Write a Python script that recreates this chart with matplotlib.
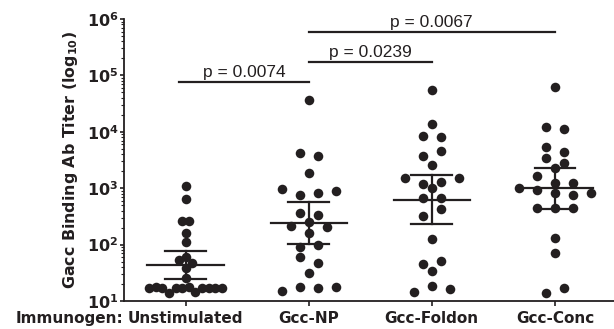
import numpy as np
import matplotlib
matplotlib.use("Agg")
import matplotlib.pyplot as plt
from matplotlib.ticker import LogLocator, FixedLocator, FuncFormatter, NullFormatter

# values (titers), in reading order per row
groups = ["Unstimulated", "Gcc-NP", "Gcc-Foldon", "Gcc-Conc"]
unstim = [1107, 644, 265, 265, 159, 112, 53, 61, 47, 38, 26,
          17.0, 17.4, 17.0, 14.0, 17.2, 16.8, 17.4, 14.2, 17.0, 17.3, 16.9, 17.1]
gcc_np = [36600, 4270, 3720, 1884, 956, 758, 813, 891, 359, 335,
          214, 248, 207, 158, 92, 98, 61, 46.6, 32, 15, 17.9, 17.2, 17.9]
gcc_foldon = [55100, 13600, 8530, 7980, 3770, 4620, 2580, 1535, 1172, 1303, 1500,
              995, 679, 679, 321, 428, 126, 45.3, 51.9, 34, 14.3, 18.4, 16.3]
gcc_conc = [61500, 12300, 11070, 5440, 4440, 3390, 2830, 2310, 1645,
            1222, 996, 1222, 929, 832, 757, 832, 437, 437, 437, 129, 71.8, 14, 16.8]
series = [unstim, gcc_np, gcc_foldon, gcc_conc]

# geometric mean with 95% CI
gmean = [43.5, 238, 618, 1000]
ci_low = [25, 101, 232, 428]
ci_high = [77, 576, 1714, 2310]

# significance brackets: (from group, to group, height, label)
brackets = [(0, 1, 77300, "p = 0.0074"),
            (1, 2, 175000, "p = 0.0239"),
            (1, 3, 581000, "p = 0.0067")]

ink = "#231f20"


def swarm_offsets(vals, gap=0.14, step=0.146, maxw=0.59):
    # rows of close values, spread sideways like a column scatter
    lv = np.log10(vals)
    order = np.argsort(-lv, kind="stable")
    rows = []
    for i in order:
        if rows and lv[rows[-1][0]] - lv[i] <= gap:
            rows[-1].append(i)
        else:
            rows.append([i])
    nmax = max(len(r) for r in rows)
    s = step if nmax < 2 else min(step, maxw / (nmax - 1))
    off = np.zeros(len(vals))
    for r in rows:
        r = sorted(r)
        for k, i in enumerate(r):
            off[i] = (k - (len(r) - 1) / 2) * s
    return off


fig = plt.figure(figsize=(6.14, 3.29), dpi=100)
ax = fig.add_axes([124 / 614, 28 / 329, 490 / 614, 282 / 329])
ax.set_yscale("log")
ax.set_ylim(10, 1e6)
ax.set_xlim(-0.5, 3.48)

for gi, vals in enumerate(series):
    off = swarm_offsets(vals)
    ax.plot(gi + off, vals, "o", color=ink, markersize=6.9, markeredgewidth=0, zorder=3)
    ax.plot([gi - 0.31, gi + 0.31], [gmean[gi], gmean[gi]], color=ink, lw=1.6, zorder=4)
    ax.plot([gi, gi], [ci_low[gi], ci_high[gi]], color=ink, lw=1.6, zorder=4)
    for v in (ci_low[gi], ci_high[gi]):
        ax.plot([gi - 0.165, gi + 0.165], [v, v], color=ink, lw=1.6, zorder=4)

for a, b, h, txt in brackets:
    x0 = a - 0.05 if a == 0 else a
    ax.plot([x0, b], [h, h], color=ink, lw=1.6, clip_on=False)
    ax.annotate(txt, xy=((x0 + b) / 2, h), xytext=(0, 1.5), textcoords="offset points",
                ha="center", va="bottom", fontsize=12.5, family="Liberation Sans", color=ink)

for side in ("top", "right"):
    ax.spines[side].set_visible(False)
for side in ("left", "bottom"):
    ax.spines[side].set_linewidth(1.3)
    ax.spines[side].set_color(ink)

ax.yaxis.set_major_locator(LogLocator(base=10, numticks=10))
ax.yaxis.set_minor_locator(LogLocator(base=10, subs=np.arange(2, 10), numticks=20))
ax.yaxis.set_minor_formatter(NullFormatter())
ax.yaxis.set_major_formatter(FuncFormatter(lambda v, p: r"$\mathbf{10^{%d}}$" % round(np.log10(v))))
ax.tick_params(axis="y", which="major", length=3, width=1.2, pad=1, labelsize=11.5, colors=ink)
ax.tick_params(axis="y", which="minor", length=2, width=0.8, colors=ink)

ax.xaxis.set_major_locator(FixedLocator(range(len(groups))))
ax.set_xticklabels(groups, fontsize=11, fontweight="bold")
ax.tick_params(axis="x", length=3.5, width=1.2, pad=4, colors=ink)

ax.set_ylabel(r"Gacc Binding Ab Titer (log$_\mathbf{10}$)", fontsize=11.4,
              fontweight="bold", labelpad=5, color=ink)
fig.text(123 / 614, 1 - 311.5 / 329, "Immunogen:", ha="right", va="top",
         fontsize=11, fontweight="bold", color=ink)

fig.savefig("out.png", dpi=100)
